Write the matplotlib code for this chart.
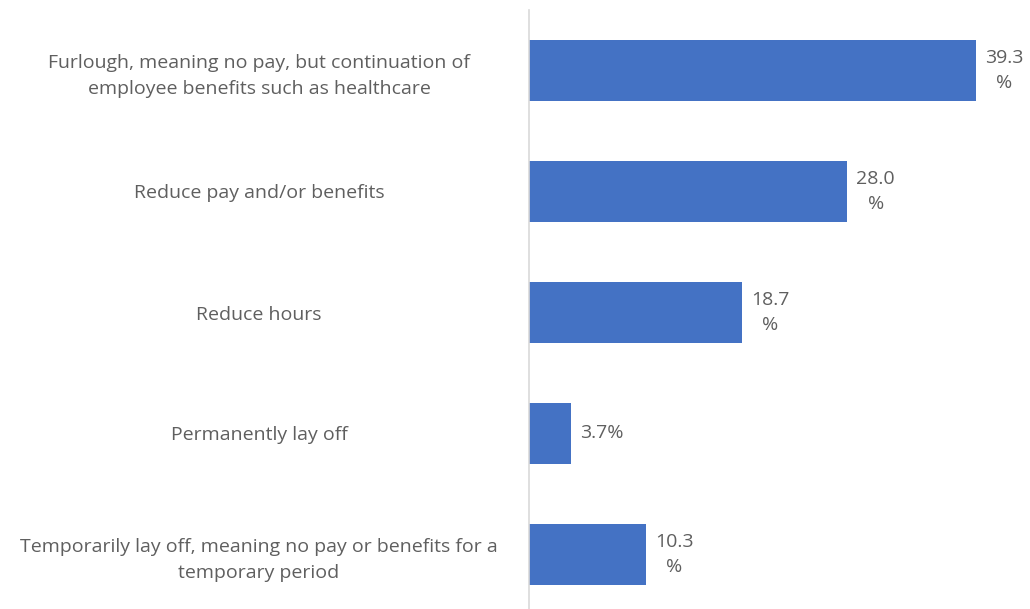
import matplotlib
matplotlib.use("Agg")
import matplotlib.pyplot as plt

# Survey responses: share of respondents choosing each action
categories = [
    "Furlough, meaning no pay, but continuation of\nemployee benefits such as healthcare",
    "Reduce pay and/or benefits",
    "Reduce hours",
    "Permanently lay off",
    "Temporarily lay off, meaning no pay or benefits for a\ntemporary period",
]
values = [39.3, 28.0, 18.7, 3.7, 10.3]

bar_color = "#4472C4"
text_color = "#5f5f5f"

plt.rcParams["font.family"] = ["Open Sans", "DejaVu Sans"]

fig = plt.figure(figsize=(10.30, 6.09), dpi=100)
ax = fig.add_axes([529 / 1030, -6 / 609, 501 / 1030, 605 / 609])

y = list(range(len(categories)))
ax.barh(y, values, height=0.5, color=bar_color)
ax.set_ylim(len(categories) - 0.5, -0.5)
ax.set_xlim(0, 501 / 11.37)

for yi, v in zip(y, values):
    s = f"{v:.1f}"
    label = s + "%" if v < 10 else s + "\n%"
    ax.text(v + 0.8, yi, label, ha="left", va="center", multialignment="center",
            fontsize=14, color=text_color, linespacing=1.55)

ax.set_yticks(y)
ax.set_yticklabels(categories, ha="center", multialignment="center",
                   fontsize=14, color=text_color, linespacing=1.55)
ax.tick_params(axis="y", length=0, pad=270 * 0.72)
ax.set_xticks([])

for side in ["top", "right", "bottom"]:
    ax.spines[side].set_visible(False)
ax.spines["left"].set_color("#d9d9d9")
ax.spines["left"].set_linewidth(1.2)

fig.savefig("out.png", dpi=100)
